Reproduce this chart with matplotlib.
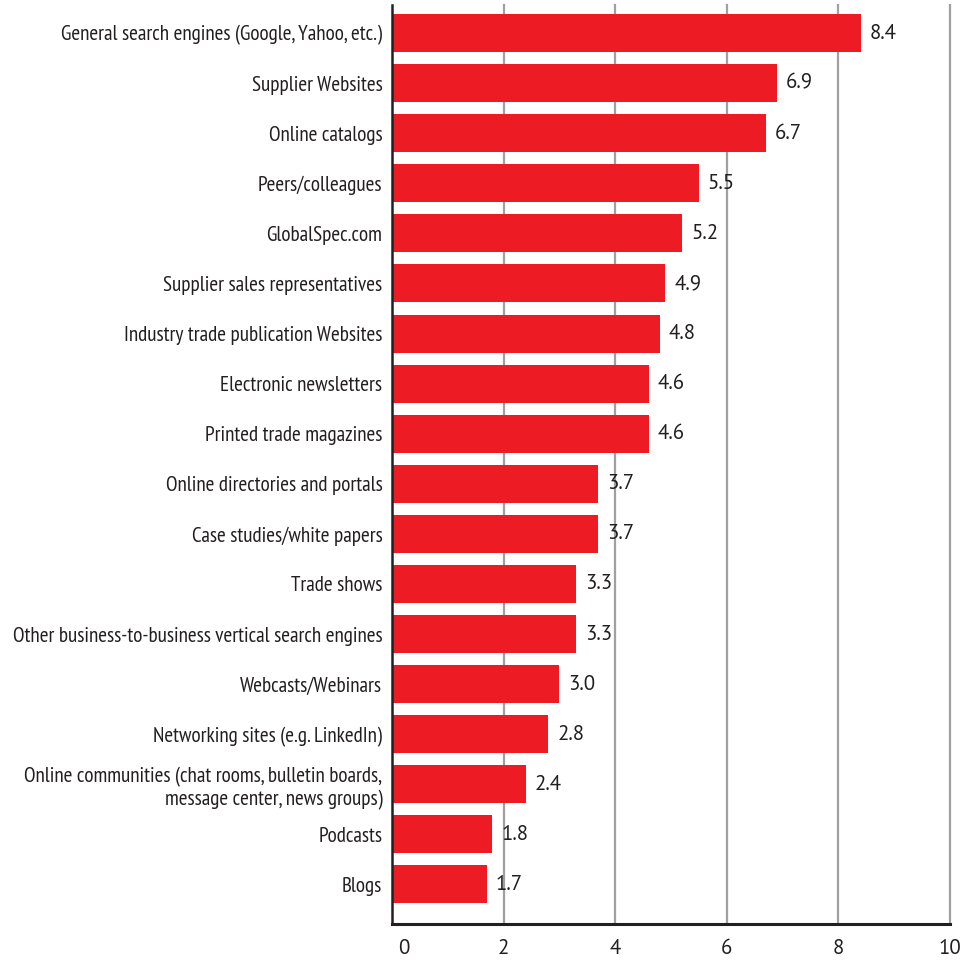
import numpy as np
import matplotlib
matplotlib.use("Agg")
from matplotlib import pyplot as plt
from matplotlib import font_manager as fm
from matplotlib.transforms import ScaledTranslation

# datos
categorias = ["General search engines (Google, Yahoo, etc.)",
              "Supplier Websites",
              "Online catalogs",
              "Peers/colleagues",
              "GlobalSpec.com",
              "Supplier sales representatives",
              "Industry trade publication Websites",
              "Electronic newsletters",
              "Printed trade magazines",
              "Online directories and portals",
              "Case studies/white papers",
              "Trade shows",
              "Other business-to-business vertical search engines",
              "Webcasts/Webinars",
              "Networking sites (e.g. LinkedIn)",
              "Online communities (chat rooms, bulletin boards,\nmessage center, news groups)",
              "Podcasts",
              "Blogs"]
valores = [8.4, 6.9, 6.7, 5.5, 5.2, 4.9, 4.8, 4.6, 4.6, 3.7, 3.7, 3.3, 3.3, 3.0, 2.8, 2.4, 1.8, 1.7]
xticks = [0, 2, 4, 6, 8, 10]

rojo = '#ED1C24'
texto = '#231F20'

# busco una fuente angosta parecida a Myriad Condensed
instaladas = set(f.name for f in fm.fontManager.ttflist)
def elegir(candidatas, defecto):
    for c in candidatas:
        if c in instaladas:
            return c
    return defecto

f_cat = elegir(['PT Sans Narrow', 'Roboto Condensed', 'Open Sans Condensed',
                'Liberation Sans Narrow', 'Archivo Narrow', 'Asap Condensed'], 'Liberation Sans')
f_num = elegir(['PT Sans', 'Open Sans'], 'DejaVu Sans')
fuente_cat = [f_cat, 'DejaVu Sans']
fuente_num = [f_num, 'DejaVu Sans']

fig = plt.figure(figsize=(9.68, 9.61), dpi=100)
ax = fig.add_axes([0.405, 0.0385, 0.9814 - 0.405, 0.9948 - 0.0385])

y = np.arange(len(categorias))
ax.barh(y, valores, height=0.76, color=rojo, zorder=2)

for yi, v in zip(y, valores):
    ax.text(v + 0.16, yi, f"{v:.1f}", va='center', ha='left', fontsize=15,
            family=fuente_num, color=texto, zorder=3)

ax.set_ylim(17.79, -0.56)
ax.set_xlim(0, 10)
ax.set_yticks(y)
ax.set_yticklabels(categorias, family=fuente_cat, fontsize=15.2, color=texto, linespacing=1.25)
ax.set_xticks(xticks)
ax.set_xticklabels([str(t) for t in xticks], family=fuente_num, fontsize=15, color=texto)
ax.tick_params(axis='both', length=0)
ax.tick_params(axis='y', pad=7)
ax.tick_params(axis='x', pad=11)

# el 0 aparece algo corrido a la derecha
lbl0 = ax.get_xticklabels()[0]
lbl0.set_transform(lbl0.get_transform() + ScaledTranslation(12 / 100, 0, fig.dpi_scale_trans))

ax.set_axisbelow(True)
for t in xticks[1:]:
    ax.axvline(t, color='#A0A0A0', linewidth=1.6, zorder=1, clip_on=False)

ax.spines['top'].set_visible(False)
ax.spines['right'].set_visible(False)
ax.spines['left'].set_color(texto)
ax.spines['left'].set_linewidth(1.8)
ax.spines['bottom'].set_color(texto)
ax.spines['bottom'].set_linewidth(2.2)

plt.savefig('out.png', dpi=100)
